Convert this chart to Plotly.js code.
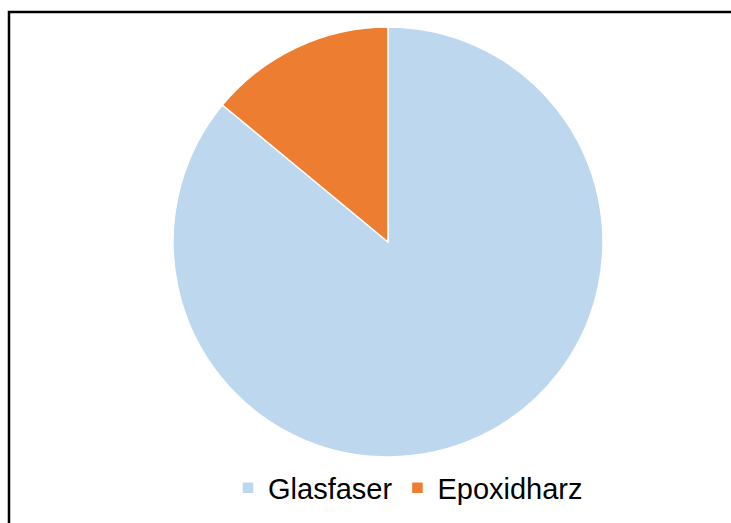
<!DOCTYPE html>
<html>
<head>
<meta charset="utf-8">
<script src="https://cdn.plot.ly/plotly-3.0.1.min.js"></script>
<style>html,body{margin:0;padding:0;background:#fff;}#chart{width:731px;height:523px;}</style>
</head>
<body>
<div id="chart"></div>
<script>
const labels = ["Glasfaser", "Epoxidharz"];
const values = [86, 14];
const colors = ["#BDD7EE", "#ED7D31"];

const W = 731, H = 523;
const data = [{
  type: "pie",
  labels: labels,
  values: values,
  sort: false,
  direction: "clockwise",
  rotation: 0,
  textinfo: "none",
  hoverinfo: "label+percent",
  marker: { colors: colors, line: { color: "#ffffff", width: 1.5 } },
  domain: { x: [173 / W, 603 / W], y: [1 - 457 / H, 1 - 27 / H] }
}];

const layout = {
  width: W, height: H,
  margin: { l: 0, r: 0, t: 0, b: 0 },
  paper_bgcolor: "#ffffff",
  font: { family: "Liberation Sans, Arial, sans-serif", color: "#000000" },
  showlegend: true,
  legend: {
    orientation: "h",
    x: 408 / W, xanchor: "center",
    y: 1 - 488 / H, yanchor: "middle",
    font: { size: 29, color: "#000000" },
    itemwidth: 30,
    traceorder: "normal"
  },
  shapes: [{
    type: "rect", xref: "paper", yref: "paper",
    x0: 9 / W, x1: 1.1, y0: -0.1, y1: 1 - 12 / H,
    line: { color: "#000000", width: 2.5 }
  }]
};

Plotly.newPlot("chart", data, layout, { displayModeBar: false, staticPlot: true });
</script>
</body>
</html>
